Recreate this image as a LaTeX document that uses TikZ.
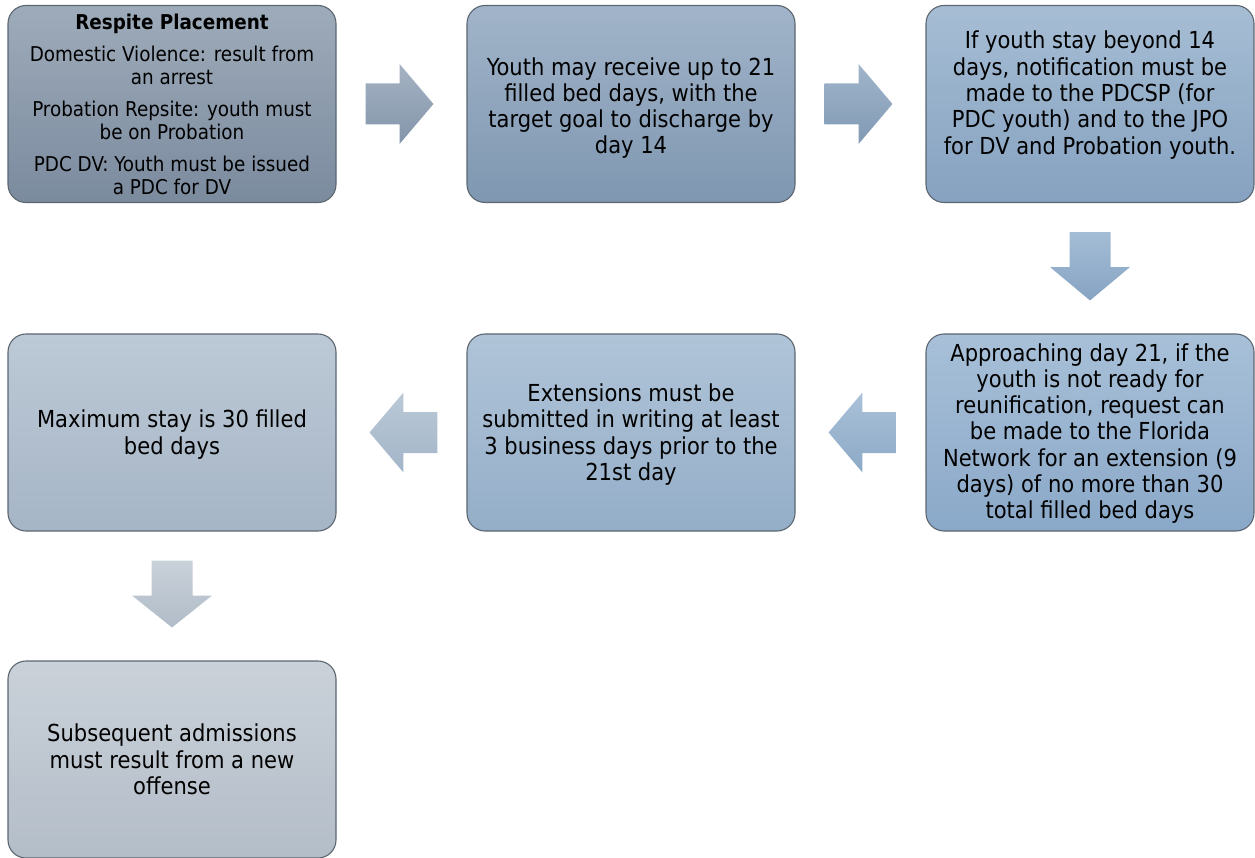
\documentclass[tikz,border=0pt]{standalone}
\usepackage{fontspec}
\setmainfont{DejaVu Sans Condensed}
\usetikzlibrary{calc}
\definecolor{bd}{HTML}{5C6670}
\begin{document}
\begin{tikzpicture}[x=1pt,y=-1pt,
  box/.style={draw=bd, line width=1.1pt, rounded corners=18pt,
    minimum width=328pt, minimum height=197pt, inner sep=0pt},
  txt/.style={inner sep=0pt, align=center, font=\fontsize{23.4}{26.3}\selectfont},
  txtsmall/.style={inner sep=0pt, align=center, font=\fontsize{20.4}{22.5}\selectfont},
  blkarrow/.style={draw=none}]
\useasboundingbox (0,0) rectangle (1255,858);
\node[box, top color={rgb,255:red,158;green,171;blue,186}, bottom color={rgb,255:red,123;green,139;blue,158},
  label={[txtsmall]center:{\textbf{Respite Placement}\\[10pt]
   Domestic Violence: result from\\ an arrest\\[10pt]
   Probation Repsite: youth must\\ be on Probation\\[10pt]
   PDC DV: Youth must be issued\\ a PDC for DV}}] (b1) at (172,104) {};
\node[box, top color={rgb,255:red,161;green,180;blue,201}, bottom color={rgb,255:red,127;green,151;blue,177},
  label={[txt,yshift=-4pt]center:{Youth may receive up to 21\\ filled bed days, with the\\ target goal to discharge by\\ day 14}}] (b2) at (631,104) {};
\node[box, top color={rgb,255:red,166;green,189;blue,212}, bottom color={rgb,255:red,134;green,162;blue,192},
  label={[txt,yshift=9pt]center:{If youth stay beyond 14\\ days, notification must be\\ made to the PDCSP (for\\ PDC youth) and to the JPO\\ for DV and Probation youth.}}] (b3) at (1090,104) {};
\node[box, top color={rgb,255:red,168;green,192;blue,216}, bottom color={rgb,255:red,138;green,168;blue,200},
  label={[txt,yshift=-1pt]center:{Approaching day 21, if the\\ youth is not ready for\\ reunification, request can\\ be made to the Florida\\ Network for an extension (9\\ days) of no more than 30\\ total filled bed days}}] (b4) at (1090,432.5) {};
\node[box, top color={rgb,255:red,176;green,196;blue,216}, bottom color={rgb,255:red,148;green,174;blue,200},
  label={[txt,yshift=-2pt]center:{Extensions must be\\ submitted in writing at least\\ 3 business days prior to the\\ 21st day}}] (b5) at (631,432.5) {};
\node[box, top color={rgb,255:red,188;green,201;blue,214}, bottom color={rgb,255:red,166;green,181;blue,198},
  label={[txt,yshift=-2pt]center:{Maximum stay is 30 filled\\ bed days}}] (b6) at (172,432.5) {};
\node[box, top color={rgb,255:red,202;green,209;blue,217}, bottom color={rgb,255:red,179;green,189;blue,200},
  label={[txt]center:{Subsequent admissions\\ must result from a new\\ offense}}] (b7) at (172,759.5) {};
% connectors (block arrows)
\path[blkarrow, top color={rgb,255:red,165;green,179;blue,195}, bottom color={rgb,255:red,131;green,149;blue,170}]
  ($(b1.east)+(29,-20.5)$) -- ++(34,0) -- ++(0,-19.5) -- ($(b2.west)+(-33,0)$) -- ($(b1.east)+(63,40)$) -- ++(0,-19.5) -- ($(b1.east)+(29,20.5)$) -- cycle;
\path[blkarrow, top color={rgb,255:red,160;green,181;blue,203}, bottom color={rgb,255:red,129;green,153;blue,180}]
  ($(b2.east)+(29,-20.5)$) -- ++(34,0) -- ++(0,-19.5) -- ($(b3.west)+(-33,0)$) -- ($(b2.east)+(63,40)$) -- ++(0,-19.5) -- ($(b2.east)+(29,20.5)$) -- cycle;
\path[blkarrow, top color={rgb,255:red,164;green,189;blue,214}, bottom color={rgb,255:red,134;green,163;blue,194}]
  ($(b3.south)+(-20.5,29)$) -- ++(41,0) -- ++(0,35) -- ++(19.5,0) -- ($(b4.north)+(0,-33)$) -- ($(b3.south)+(-40,64)$) -- ++(19.5,0) -- cycle;
\path[blkarrow, top color={rgb,255:red,170;green,193;blue,216}, bottom color={rgb,255:red,140;green,169;blue,198}]
  ($(b4.west)+(-29,-20.5)$) -- ++(-34,0) -- ++(0,-19.5) -- ($(b5.east)+(33,0)$) -- ($(b4.west)+(-63,40)$) -- ++(0,-19.5) -- ($(b4.west)+(-29,20.5)$) -- cycle;
\path[blkarrow, top color={rgb,255:red,187;green,201;blue,215}, bottom color={rgb,255:red,162;green,181;blue,200}]
  ($(b5.west)+(-29,-20.5)$) -- ++(-34,0) -- ++(0,-19.5) -- ($(b6.east)+(33,0)$) -- ($(b5.west)+(-63,40)$) -- ++(0,-19.5) -- ($(b5.west)+(-29,20.5)$) -- cycle;
\path[blkarrow, top color={rgb,255:red,201;green,209;blue,217}, bottom color={rgb,255:red,177;green,188;blue,200}]
  ($(b6.south)+(-20.5,29)$) -- ++(41,0) -- ++(0,35) -- ++(19.5,0) -- ($(b7.north)+(0,-33)$) -- ($(b6.south)+(-40,64)$) -- ++(19.5,0) -- cycle;
\end{tikzpicture}
\end{document}
